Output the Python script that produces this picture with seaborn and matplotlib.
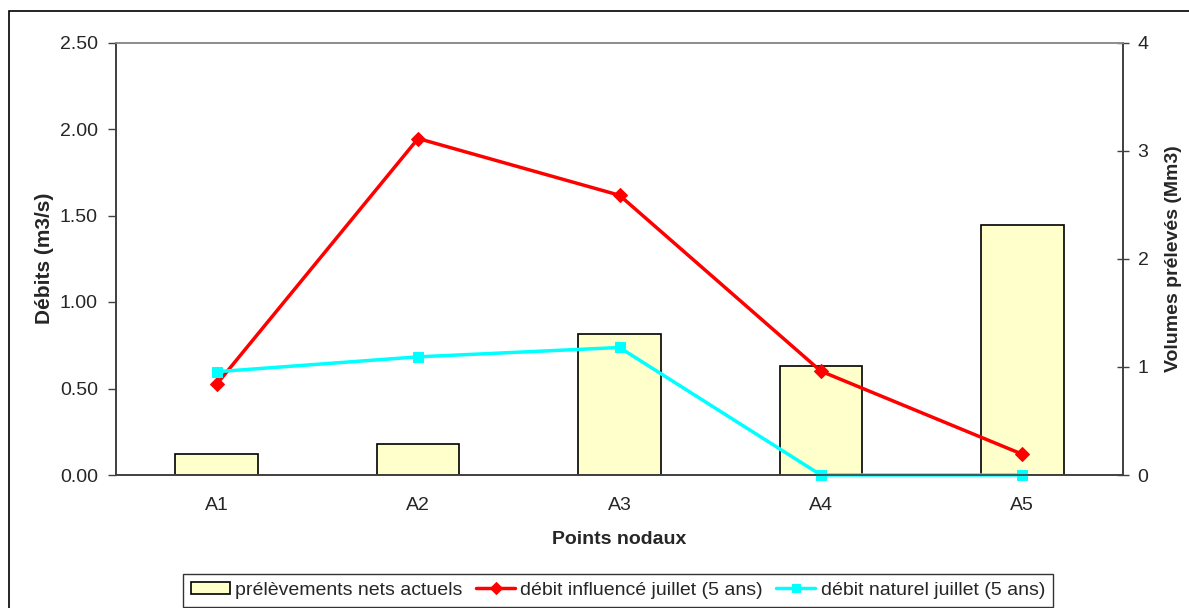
import matplotlib
matplotlib.use("Agg")
import matplotlib.pyplot as plt
from matplotlib.patches import Rectangle
import pandas as pd
import seaborn as sns

points = ["A1", "A2", "A3", "A4", "A5"]
prelevements = [0.19, 0.29, 1.30, 1.01, 2.31]          # Mm3, right axis
debit_influence = [0.525, 1.945, 1.617, 0.60, 0.12]   # m3/s, left axis
debit_naturel = [0.597, 0.683, 0.737, 0.0, 0.0]       # m3/s, left axis

lab_bar = "prélèvements nets actuels"
lab_inf = "débit influencé juillet (5 ans)"
lab_nat = "débit naturel juillet (5 ans)"

df = pd.DataFrame({"point": points, "prel": prelevements,
                   "inf": debit_influence, "nat": debit_naturel})

sns.set_style("white")
plt.rcParams["font.family"] = ["Liberation Sans", "DejaVu Sans"]
fs = 14

fig = plt.figure(figsize=(11.89, 6.08), dpi=100)
W, H = 1189, 608
ax_bar = fig.add_axes([116 / W, 1 - 475 / H, (1123 - 116) / W, (475 - 42.5) / H])
ax_line = ax_bar.twinx()

# bars on the volume axis (right)
sns.barplot(data=df, x="point", y="prel", ax=ax_bar, color="#FFFFCC",
            edgecolor="black", linewidth=1.2, width=0.41, saturation=1, label=lab_bar)

# lines on the discharge axis (left)
sns.lineplot(data=df, x="point", y="inf", ax=ax_line, color="red", lw=2.5,
             marker="D", markersize=7, markeredgecolor="red", label=lab_inf, clip_on=False)
sns.lineplot(data=df, x="point", y="nat", ax=ax_line, color="#00FFFF", lw=2.5,
             marker="s", markersize=7.5, markeredgecolor="#00FFFF", label=lab_nat, clip_on=False)

ax_bar.set_xlim(-0.5, 4.5)
ax_bar.set_ylim(0, 4)
ax_line.set_ylim(0, 2.5)

# swap sides: left = debits, right = volumes
ax_bar.yaxis.tick_right()
ax_bar.yaxis.set_label_position("right")
ax_line.yaxis.tick_left()
ax_line.yaxis.set_label_position("left")

ax_line.set_yticks([0, 0.5, 1.0, 1.5, 2.0, 2.5])
ax_line.set_yticklabels([f"{v:.2f}" for v in [0, 0.5, 1.0, 1.5, 2.0, 2.5]])
ax_bar.set_yticks([0, 1, 2, 3, 4])

ax_bar.set_xticks(range(5))
ax_bar.set_xticks([i - 0.5 for i in range(6)], minor=True)
ax_bar.tick_params(axis="x", which="major", length=0, labelsize=fs, pad=16)
ax_bar.tick_params(axis="x", which="minor", length=6, width=1, color="#404040", direction="out")
ax_bar.tick_params(axis="y", length=9, width=1, color="#404040", direction="inout", labelsize=fs, pad=6)
ax_line.tick_params(axis="y", length=6, width=1, color="#404040", direction="out", labelsize=fs, pad=7)
ax_line.tick_params(axis="x", bottom=False, labelbottom=False)

ax_bar.set_xlabel("Points nodaux", fontsize=fs, fontweight="bold", labelpad=12)
ax_line.set_xlabel("")
ax_line.set_ylabel("Débits (m3/s)", fontsize=15, fontweight="bold", labelpad=4)
ax_bar.set_ylabel("Volumes prélevés (Mm3)", fontsize=fs, fontweight="bold", labelpad=12)

for a in (ax_bar, ax_line):
    for side in ("left", "right", "bottom"):
        a.spines[side].set_color("#404040")
        a.spines[side].set_linewidth(1.2)
    a.spines["top"].set_color("#8c8c8c")
    a.spines["top"].set_linewidth(1.2)
ax_line.patch.set_visible(False)

# legend
h1, l1 = ax_bar.get_legend_handles_labels()
h2, l2 = ax_line.get_legend_handles_labels()
for a in (ax_bar, ax_line):
    if a.get_legend():
        a.get_legend().remove()
leg = fig.legend(h1 + h2, l1 + l2, loc="upper center", ncol=3,
                 bbox_to_anchor=(618 / W, 1 - 574 / H), borderaxespad=0,
                 fontsize=fs, frameon=True, fancybox=False, edgecolor="black",
                 handlelength=2.0, handleheight=0.6, handletextpad=0.27,
                 columnspacing=0.7, borderpad=0.4, markerscale=0.85)
leg.get_frame().set_linewidth(1.0)

# outer chart frame
fig.patches.append(Rectangle((9 / W, -0.1), 1.1, 1 - 11 / H + 0.1,
                             transform=fig.transFigure, fill=False,
                             edgecolor="black", linewidth=1.2))

fig.savefig("out.png", dpi=100)
